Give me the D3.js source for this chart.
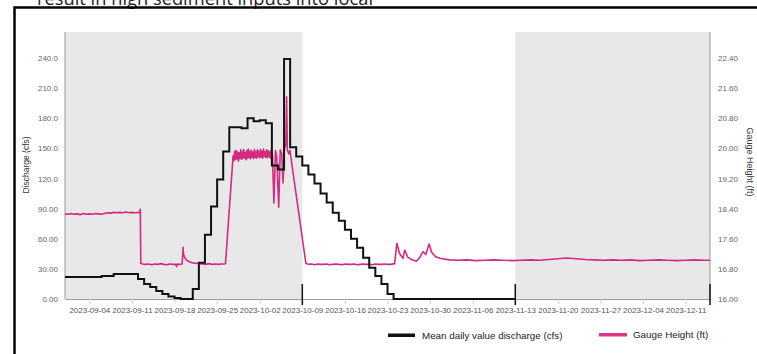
<!DOCTYPE html>
<html>
<head>
<meta charset="utf-8">
<script src="https://cdn.jsdelivr.net/npm/d3@7"></script>
<style>
  html, body { margin: 0; padding: 0; background: #fff; }
  svg { display: block; }
</style>
</head>
<body>
<svg id="chart" width="757" height="354"></svg>
<script>
// ---------------- DATA ----------------
const headingText = "result in high sediment inputs into local";

const dischargeStart = "2023-08-31";
// mean daily discharge (cfs), one value per day from 2023-08-31
const dischargeValues = [
  22, 22, 22, 22, 22, 22, 23, 23, 25, 25, 25, 25,
  20, 15, 12, 8, 5, 2.5, 1, 0, 0,
  10, 36, 64, 92, 119, 147, 171, 171, 170, 180, 177, 178, 175, 133, 129,
  239, 151, 142, 133, 124, 115, 105, 96, 86, 78, 69, 60, 51, 41, 31, 23, 15, 5,
  0, 0, 0, 0, 0, 0, 0, 0, 0, 0, 0, 0, 0, 0, 0, 0, 0, 0, 0, 0
];
const dischargeEnd = "2023-11-13";

// gauge height (ft) readings
const gaugeTimes = [
  "2023-08-31T00:00","2023-08-31T12:00","2023-09-01T00:00","2023-09-01T12:00","2023-09-02T00:00","2023-09-02T12:00",
  "2023-09-03T00:00","2023-09-03T12:00","2023-09-04T00:00","2023-09-04T12:00","2023-09-05T00:00","2023-09-05T12:00",
  "2023-09-06T00:00","2023-09-06T12:00","2023-09-07T00:00","2023-09-07T12:00","2023-09-08T00:00","2023-09-08T12:00",
  "2023-09-09T00:00","2023-09-09T12:00","2023-09-10T00:00","2023-09-10T12:00","2023-09-11T00:00","2023-09-11T12:00",
  "2023-09-12T06:00","2023-09-12T09:00","2023-09-12T11:00","2023-09-12T18:00","2023-09-13T06:00","2023-09-13T18:00",
  "2023-09-14T06:00","2023-09-14T18:00","2023-09-15T06:00","2023-09-15T18:00","2023-09-16T06:00","2023-09-16T18:00",
  "2023-09-17T06:00","2023-09-17T18:00","2023-09-18T04:00","2023-09-18T08:00","2023-09-18T10:00","2023-09-18T20:00",
  "2023-09-19T06:00","2023-09-19T10:00","2023-09-19T11:00","2023-09-19T16:00","2023-09-20T00:00","2023-09-20T12:00",
  "2023-09-21T00:00","2023-09-21T12:00","2023-09-22T04:00","2023-09-22T16:00","2023-09-23T04:00","2023-09-23T16:00",
  "2023-09-24T04:00","2023-09-24T16:00","2023-09-25T04:00","2023-09-25T16:00","2023-09-26T04:00","2023-09-26T09:00",
  "2023-09-27T15:00","2023-09-27T18:00","2023-09-27T21:00","2023-09-28T00:00","2023-09-28T03:00","2023-09-28T06:00",
  "2023-09-28T09:00","2023-09-28T12:00","2023-09-28T15:00","2023-09-28T18:00","2023-09-28T21:00","2023-09-29T00:00",
  "2023-09-29T03:00","2023-09-29T06:00","2023-09-29T09:00","2023-09-29T12:00","2023-09-29T15:00","2023-09-29T18:00",
  "2023-09-29T21:00","2023-09-30T00:00","2023-09-30T03:00","2023-09-30T06:00","2023-09-30T09:00","2023-09-30T12:00",
  "2023-09-30T15:00","2023-09-30T18:00","2023-09-30T21:00","2023-10-01T00:00","2023-10-01T03:00","2023-10-01T06:00",
  "2023-10-01T09:00","2023-10-01T12:00","2023-10-01T15:00","2023-10-01T18:00","2023-10-01T21:00","2023-10-02T00:00",
  "2023-10-02T03:00","2023-10-02T06:00","2023-10-02T09:00","2023-10-02T12:00","2023-10-02T15:00","2023-10-02T18:00",
  "2023-10-02T21:00","2023-10-03T00:00","2023-10-03T03:00","2023-10-03T06:00","2023-10-03T09:00","2023-10-03T12:00",
  "2023-10-03T15:00","2023-10-03T18:00","2023-10-03T21:00","2023-10-04T02:00","2023-10-04T08:00","2023-10-04T14:00",
  "2023-10-04T19:00","2023-10-05T03:00","2023-10-05T09:00","2023-10-05T15:00","2023-10-05T20:00","2023-10-06T01:00",
  "2023-10-06T07:00","2023-10-06T10:00","2023-10-06T13:00","2023-10-06T19:00","2023-10-06T23:00","2023-10-09T14:00",
  "2023-10-10T00:00","2023-10-10T12:00","2023-10-11T00:00","2023-10-11T12:00","2023-10-12T00:00","2023-10-12T12:00",
  "2023-10-13T00:00","2023-10-13T12:00","2023-10-14T00:00","2023-10-14T12:00","2023-10-15T00:00","2023-10-15T12:00",
  "2023-10-16T00:00","2023-10-16T12:00","2023-10-17T00:00","2023-10-17T12:00","2023-10-18T00:00","2023-10-18T12:00",
  "2023-10-19T00:00","2023-10-19T12:00","2023-10-20T00:00","2023-10-20T12:00","2023-10-21T00:00","2023-10-21T12:00",
  "2023-10-22T00:00","2023-10-22T12:00","2023-10-23T00:00","2023-10-23T12:00","2023-10-24T04:00","2023-10-24T13:00",
  "2023-10-25T00:00","2023-10-25T13:00","2023-10-25T20:00","2023-10-26T07:00","2023-10-27T00:00","2023-10-27T18:00",
  "2023-10-28T07:00","2023-10-28T20:00","2023-10-29T07:00","2023-10-29T20:00","2023-10-30T06:00","2023-10-30T22:00",
  "2023-10-31T14:00","2023-11-02T05:00","2023-11-03T12:00","2023-11-05T00:00","2023-11-06T12:00","2023-11-08T00:00",
  "2023-11-09T12:00","2023-11-11T00:00","2023-11-12T12:00","2023-11-14T00:00","2023-11-15T12:00","2023-11-17T00:00",
  "2023-11-18T12:00","2023-11-20T00:00","2023-11-21T12:00","2023-11-23T00:00","2023-11-24T12:00","2023-11-26T00:00",
  "2023-11-27T12:00","2023-11-29T00:00","2023-11-30T12:00","2023-12-02T00:00","2023-12-03T12:00","2023-12-05T00:00",
  "2023-12-06T12:00","2023-12-08T00:00","2023-12-09T12:00","2023-12-11T00:00","2023-12-12T12:00","2023-12-14T00:00",
  "2023-12-15T00:00"
];
const gaugeValues = [
  18.26, 18.25, 18.27, 18.25, 18.26, 18.24,
  18.27, 18.25, 18.26, 18.25, 18.27, 18.26,
  18.25, 18.27, 18.29, 18.28, 18.30, 18.29,
  18.30, 18.29, 18.31, 18.29, 18.30, 18.29,
  18.30, 18.38, 16.95, 16.93, 16.92, 16.93,
  16.91, 16.93, 16.92, 16.94, 16.92, 16.91,
  16.93, 16.92, 16.92, 16.86, 16.93, 16.92,
  16.93, 17.37, 17.20, 17.10, 17.03, 16.98,
  16.96, 16.95, 16.93, 16.93, 16.92, 16.94,
  16.92, 16.93, 16.92, 16.93, 16.93, 16.94,
  19.80, 19.68, 19.92, 19.70, 19.94, 19.72,
  19.90, 19.66, 19.88, 19.74, 19.96, 19.71,
  19.91, 19.73, 19.97, 19.75, 19.89, 19.70,
  19.94, 19.74, 19.98, 19.76, 19.92, 19.72,
  19.95, 19.77, 19.90, 19.73, 19.97, 19.76,
  19.91, 19.74, 19.96, 19.78, 19.92, 19.75,
  19.97, 19.77, 19.93, 19.74, 19.98, 19.79,
  19.91, 19.76, 19.96, 19.75, 19.94, 19.78,
  19.90, 19.74, 19.95, 19.85, 18.55, 19.94,
  19.80, 18.44, 19.96, 19.85, 19.08, 19.96,
  20.10, 21.37, 19.95, 19.85, 19.95, 16.95,
  16.92, 16.93, 16.91, 16.93, 16.92, 16.92,
  16.93, 16.91, 16.92, 16.93, 16.92, 16.91,
  16.93, 16.92, 16.92, 16.93, 16.91, 16.92,
  16.93, 16.92, 16.92, 16.91, 16.93, 16.92,
  16.92, 16.93, 16.92, 16.92, 16.94, 17.48,
  17.20, 17.08, 17.30, 17.12, 17.04, 17.00,
  17.10, 17.26, 17.18, 17.46, 17.24, 17.12,
  17.08, 17.04, 17.03, 17.04, 17.02, 17.03,
  17.04, 17.03, 17.02, 17.03, 17.04, 17.03,
  17.05, 17.07, 17.09, 17.07, 17.05, 17.04,
  17.03, 17.04, 17.03, 17.04, 17.02, 17.03,
  17.04, 17.03, 17.02, 17.03, 17.04, 17.03,
  17.03
];

const xStart = "2023-08-31", xEnd = "2023-12-15";
const xTickDates = ["2023-09-04","2023-09-11","2023-09-18","2023-09-25","2023-10-02","2023-10-09","2023-10-16",
  "2023-10-23","2023-10-30","2023-11-06","2023-11-13","2023-11-20","2023-11-27","2023-12-04","2023-12-11"];
const leftTicks = [0, 30, 60, 90, 120, 150, 180, 210, 240];
const leftTickLabels = ["0.00","30.00","60.00","90.00","120.0","150.0","180.0","210.0","240.0"];
const rightTicks = [16.0, 16.8, 17.6, 18.4, 19.2, 20.0, 20.8, 21.6, 22.4];
const rightTickLabels = ["16.00","16.80","17.60","18.40","19.20","20.00","20.80","21.60","22.40"];
const shadedPeriods = [["2023-08-31","2023-10-09"],["2023-11-13","2023-12-15"]];
const markerDates = ["2023-10-09","2023-11-13","2023-12-15"];
const leftTitle = "Discharge (cfs)";
const rightTitle = "Gauge Height (ft)";
const legendLabels = ["Mean daily value discharge (cfs)", "Gauge Height (ft)"];

// ---------------- DRAW ----------------
const svg = d3.select("#chart");
const pDay = d3.timeParse("%Y-%m-%d");
const pTime = d3.timeParse("%Y-%m-%dT%H:%M");
const FONT = "'Liberation Sans', Arial, sans-serif";
const PINK = "#d42a82", BLACK = "#111";

const plot = { left: 65, right: 710, top: 32, bottom: 299 };
const x = d3.scaleTime().domain([pDay(xStart), pDay(xEnd)]).range([plot.left, plot.right]);
const yL = d3.scaleLinear().domain([0, 240]).range([plot.bottom, 58]);
const yR = d3.scaleLinear().domain([16, 22.4]).range([plot.bottom, 58]);

// heading (cut off at top, as in the source slide)
svg.append("text").attr("x", 37).attr("y", 4.5)
  .attr("font-family", "'Open Sans', 'Liberation Sans', sans-serif").attr("font-size", 19)
  .attr("fill", "#222").attr("textLength", 336).attr("lengthAdjust", "spacingAndGlyphs")
  .text(headingText);

// frame
svg.append("path").attr("d", "M14.5,354 L14.5,7.5 L757,7.5")
  .attr("fill", "none").attr("stroke", "#000").attr("stroke-width", 2.5);

// shaded periods
svg.append("g").selectAll("rect").data(shadedPeriods).join("rect")
  .attr("x", d => x(pDay(d[0])))
  .attr("width", d => x(pDay(d[1])) - x(pDay(d[0])))
  .attr("y", plot.top).attr("height", plot.bottom - plot.top)
  .attr("fill", "#e8e8e8");

// axes
const gx = svg.append("g").attr("transform", `translate(0,${plot.bottom})`)
  .call(d3.axisBottom(x).tickValues(xTickDates.map(pDay)).tickFormat(d3.timeFormat("%Y-%m-%d"))
    .tickSizeInner(5).tickSizeOuter(0).tickPadding(3));
gx.select(".domain").attr("stroke", "#9a9a9a");
gx.selectAll(".tick line").attr("stroke", "#d0d0d0");
gx.selectAll(".tick text").attr("font-family", FONT).attr("font-size", 8).attr("fill", "#555");

const gl = svg.append("g").attr("transform", `translate(${plot.left},0)`)
  .call(d3.axisLeft(yL).tickValues(leftTicks).tickFormat((d, i) => leftTickLabels[i]).tickSize(0).tickPadding(7));
gl.select(".domain").attr("stroke", "#9a9a9a").attr("d", `M0,${plot.top}V${plot.bottom}`);
gl.selectAll(".tick text").attr("font-family", FONT).attr("font-size", 8).attr("fill", "#666");

const gr = svg.append("g").attr("transform", `translate(${plot.right},0)`)
  .call(d3.axisRight(yR).tickValues(rightTicks).tickFormat((d, i) => rightTickLabels[i]).tickSize(0).tickPadding(8));
gr.select(".domain").attr("stroke", "#9a9a9a").attr("d", `M0,${plot.top}V${plot.bottom}`);
gr.selectAll(".tick text").attr("font-family", FONT).attr("font-size", 8).attr("fill", "#666");

// axis titles
svg.append("text").attr("transform", `translate(29,165) rotate(-90)`).attr("text-anchor", "middle")
  .attr("font-family", FONT).attr("font-size", 8.5).attr("fill", "#333").text(leftTitle);
svg.append("text").attr("transform", `translate(747,162) rotate(90)`).attr("text-anchor", "middle")
  .attr("font-family", FONT).attr("font-size", 9).attr("fill", "#333").text(rightTitle);

// gauge height line
const gaugeData = gaugeTimes.map((t, i) => ({ t: pTime(t), v: gaugeValues[i] }));
svg.append("path").datum(gaugeData)
  .attr("fill", "none").attr("stroke", PINK).attr("stroke-width", 1.6).attr("stroke-linejoin", "round")
  .attr("d", d3.line().x(d => x(d.t)).y(d => yR(d.v)));

// discharge step line
const d0 = pDay(dischargeStart);
const dischargeData = dischargeValues.map((v, i) => ({ t: d3.timeDay.offset(d0, i), v }));
dischargeData.push({ t: pDay(dischargeEnd), v: dischargeValues[dischargeValues.length - 1] });
svg.append("path").datum(dischargeData)
  .attr("fill", "none").attr("stroke", BLACK).attr("stroke-width", 2)
  .attr("d", d3.line().curve(d3.curveStepAfter).x(d => x(d.t)).y(d => yL(d.v)));

// period markers
svg.append("g").selectAll("line").data(markerDates).join("line")
  .attr("x1", d => x(pDay(d))).attr("x2", d => x(pDay(d)))
  .attr("y1", 284).attr("y2", 305)
  .attr("stroke", BLACK).attr("stroke-width", 1.5);

// legend
const lg = svg.append("g");
lg.append("rect").attr("x", 388).attr("y", 333.5).attr("width", 27).attr("height", 3.5).attr("fill", BLACK);
lg.append("text").attr("x", 422).attr("y", 339).attr("font-family", FONT).attr("font-size", 9.8)
  .attr("fill", "#222").text(legendLabels[0]);
lg.append("rect").attr("x", 599).attr("y", 333).attr("width", 28).attr("height", 3.5).attr("fill", "#e0348c");
lg.append("text").attr("x", 633).attr("y", 338).attr("font-family", FONT).attr("font-size", 9.8)
  .attr("fill", "#222").text(legendLabels[1]);
</script>
</body>
</html>
